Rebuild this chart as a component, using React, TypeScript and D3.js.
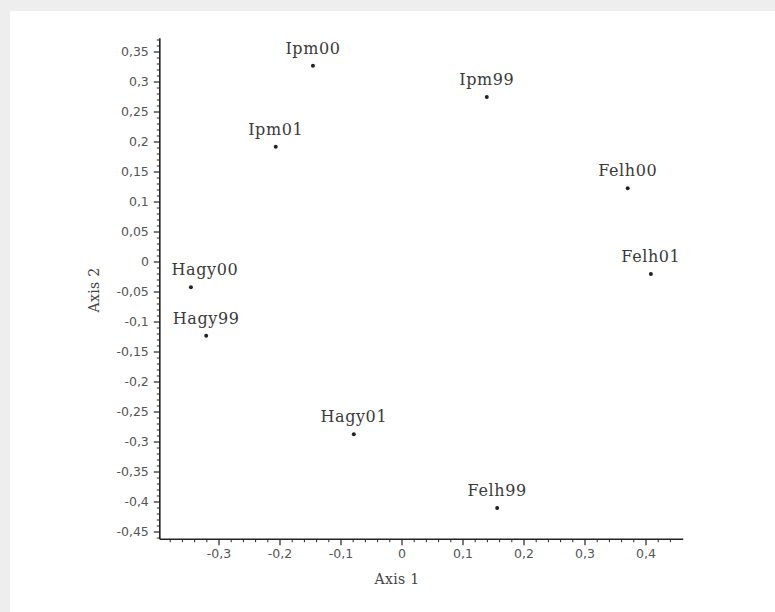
import React, { useEffect, useRef } from 'react';
import * as d3 from 'd3';

// sample names and their coordinates on the two axes
const names = ['Ipm00', 'Ipm99', 'Ipm01', 'Felh00', 'Felh01', 'Hagy00', 'Hagy99', 'Hagy01', 'Felh99'];
const axis1 = [-0.146, 0.139, -0.207, 0.37, 0.408, -0.346, -0.321, -0.079, 0.156];
const axis2 = [0.327, 0.275, 0.192, 0.123, -0.02, -0.042, -0.123, -0.287, -0.41];

const xTicks = [-0.3, -0.2, -0.1, 0, 0.1, 0.2, 0.3, 0.4];
const yTicks = [0.35, 0.3, 0.25, 0.2, 0.15, 0.1, 0.05, 0, -0.05, -0.1, -0.15, -0.2, -0.25, -0.3, -0.35, -0.4, -0.45];

const W = 775;
const H = 612;

const App = () => {
  const svgRef = useRef<SVGSVGElement>(null);

  useEffect(() => {
    const svg = d3.select(svgRef.current);
    svg.selectAll('*').remove();

    const x = d3.scaleLinear().domain([-0.3, 0.4]).range([219, 646]);
    const y = d3.scaleLinear().domain([0.35, -0.45]).range([52, 532]);
    const fmt = (v: number) => (Math.round(v * 100) / 100).toString().replace('.', ',');

    const x0 = x(-0.397), x1 = x(0.461);
    const y0 = y(0.373), y1 = y(-0.462);

    // frame
    svg.append('rect').attr('width', W).attr('height', H).attr('fill', '#eeeeee');
    svg.append('rect').attr('x', 10).attr('y', 11).attr('width', W - 10).attr('height', H - 11).attr('fill', '#ffffff');

    const axes = svg.append('g').attr('stroke', '#222');

    // minor ticks
    const xMinor = d3.range(-0.38, 0.46, 0.02).filter(v => Math.abs(Math.round(v * 10) - v * 10) > 1e-6);
    axes.selectAll('line.xm').data(xMinor).join('line')
      .attr('x1', d => x(d)).attr('x2', d => x(d))
      .attr('y1', y1).attr('y2', y1 + 3).attr('stroke-width', 1);
    const yMinor = d3.range(-0.46, 0.375, 0.01).filter(v => Math.abs(Math.round(v * 20) - v * 20) > 1e-6);
    axes.selectAll('line.ym').data(yMinor).join('line')
      .attr('y1', d => y(d)).attr('y2', d => y(d))
      .attr('x1', x0 - 3).attr('x2', x0).attr('stroke-width', 1);

    // major ticks
    axes.selectAll('line.xM').data(xTicks).join('line')
      .attr('x1', d => x(d)).attr('x2', d => x(d))
      .attr('y1', y1).attr('y2', y1 + 6).attr('stroke-width', 1.2);
    axes.selectAll('line.yM').data(yTicks).join('line')
      .attr('y1', d => y(d)).attr('y2', d => y(d))
      .attr('x1', x0 - 6).attr('x2', x0).attr('stroke-width', 1.2);

    // axis lines
    axes.append('line').attr('x1', x0).attr('x2', x0).attr('y1', y0).attr('y2', y1).attr('stroke-width', 1.6);
    axes.append('line').attr('x1', x0).attr('x2', x1).attr('y1', y1).attr('y2', y1).attr('stroke-width', 1.6);

    const tickFont = 'font-family: "DejaVu Sans", sans-serif; font-size: 12.5px; fill: #555;';

    svg.append('g').selectAll('text').data(xTicks).join('text')
      .attr('x', d => x(d)).attr('y', y1 + 19)
      .attr('text-anchor', 'middle').attr('style', tickFont)
      .text(fmt);

    svg.append('g').selectAll('text').data(yTicks).join('text')
      .attr('x', x0 - 11).attr('y', d => y(d) + 4)
      .attr('text-anchor', 'end').attr('style', tickFont)
      .text(fmt);

    const titleFont = 'font-family: "DejaVu Serif", serif; font-size: 14px; fill: #444; letter-spacing: 0.3px;';
    svg.append('text').attr('x', 397).attr('y', 584).attr('text-anchor', 'middle')
      .attr('style', titleFont).text('Axis 1');
    svg.append('text').attr('transform', 'translate(99,290) rotate(-90)').attr('text-anchor', 'middle')
      .attr('style', titleFont).text('Axis 2');

    // points and labels
    const pts = names.map((n, i) => ({ n, a: axis1[i], b: axis2[i] }));
    const g = svg.append('g');
    g.selectAll('circle').data(pts).join('circle')
      .attr('cx', d => x(d.a)).attr('cy', d => y(d.b)).attr('r', 2).attr('fill', '#222');
    g.selectAll('text').data(pts).join('text')
      .attr('x', d => x(d.a) + (d.n === 'Hagy00' ? 14 : 0))
      .attr('y', d => y(d.b) - 12)
      .attr('text-anchor', 'middle')
      .attr('style', 'font-family: "DejaVu Serif", serif; font-size: 16px; fill: #3a3a3a; letter-spacing: 0.6px;')
      .text(d => d.n);
  }, []);

  return (
    <div style={{ position: 'fixed', left: 0, top: 0 }}>
      <svg ref={svgRef} width={W} height={H} style={{ display: 'block' }}></svg>
    </div>
  );
};

export default App;
